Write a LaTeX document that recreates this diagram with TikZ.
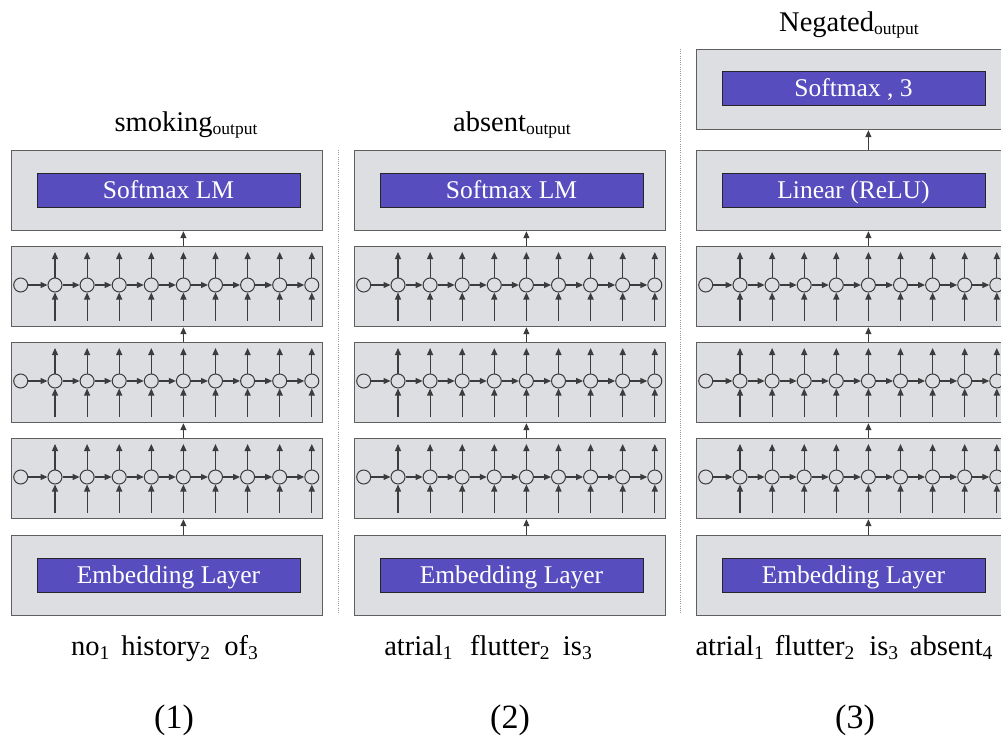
\documentclass[tikz,border=0pt]{standalone}
\usepackage{fontspec}
\setmainfont{Liberation Serif}
\usetikzlibrary{arrows.meta}

\definecolor{panelgray}{RGB}{221,222,226}
\definecolor{blockblue}{RGB}{88,77,190}
\definecolor{edgegray}{RGB}{95,95,95}
\definecolor{wiregray}{RGB}{60,60,60}

% lowered index after a word, and the "output" index of the top labels
\newcommand\lo[1]{\raisebox{-4pt}{\fontsize{19.5}{20}\selectfont #1}}
\newcommand\outsub{\raisebox{-3pt}{\fontsize{17.5}{18}\selectfont output}}

\tikzset{
  layer/.style={draw=edgegray, fill=panelgray, line width=1.2pt, anchor=north west,
                minimum width=311pt, minimum height=80pt, inner sep=0pt},
  block/.style={draw=black!85, fill=blockblue, text=white, line width=1pt,
                minimum width=263pt, minimum height=34pt, inner sep=0pt,
                text height=18pt, text depth=2pt,
                font=\fontsize{25.5}{30}\selectfont},
  cell/.style={circle, draw=wiregray, line width=1pt, minimum size=14pt, inner sep=0pt},
  flow/.style={draw=wiregray, line width=1.2pt, -{Triangle[length=7pt,width=6pt]}},
  sep/.style={draw=black!40, line width=0.9pt, dash pattern=on 1pt off 1.2pt},
  lbl/.style={anchor=base, inner sep=0pt, font=\fontsize{28.5}{34}\selectfont},
  tag/.style={anchor=base, inner sep=0pt, font=\fontsize{34}{40}\selectfont},
}

\begin{document}
\begin{tikzpicture}[x=1pt, y=-1pt]
\clip (0,0) rectangle (1001,738);
\fill[white] (0,0) rectangle (1001,738);

% separators between the three models
\draw[sep] (338,150) -- (338,614);
\draw[sep] (680,49) -- (680,614);

\foreach \p/\L in {1/11, 2/354, 3/696} {
  % embedding layer
  \node[layer] (p\p-emb) at (\L,535) {};
  \node[block] (p\p-embblk) at (\L+157.5,575.5) {Embedding Layer};
  % three stacked recurrent layers
  \foreach \r/\T in {1/246, 2/342, 3/438} {
    \node[layer] (p\p-r\r) at (\L,\T) {};
    \node[cell] (p\p-r\r-c0) at (\L+9.7,\T+39) {};
    \foreach \c in {1,...,9} {
      \pgfmathtruncatemacro\prev{\c-1}
      \node[cell] (p\p-r\r-c\c) at ({\L+44+32.1*(\c-1)},\T+39) {};
      \coordinate (p\p-r\r-o\c) at ({\L+44+32.1*(\c-1)},\T+6);
      \coordinate (p\p-r\r-i\c) at ({\L+44+32.1*(\c-1)},\T+75);
      \draw[flow] (p\p-r\r-c\c) -- (p\p-r\r-o\c);
      \draw[flow] (p\p-r\r-i\c) -- (p\p-r\r-c\c);
      \draw[flow] (p\p-r\r-c\prev) -- (p\p-r\r-c\c);
    }
  }
  % layer on top of the recurrent stack
  \node[layer] (p\p-top) at (\L,150) {};
}

\node[block] (p1-topblk) at (11+157.5,191) {Softmax LM};
\node[block] (p2-topblk) at (354+157.5,191) {Softmax LM};
\node[block] (p3-topblk) at (696+157.5,191) {Linear (ReLU)};

% classifier head of the third model
\node[layer] (p3-head) at (696,49) {};
\node[block] (p3-headblk) at (696+157.5,89) {Softmax , 3};

% connections between layers
\foreach \p in {1,2,3} {
  \draw[flow] (p\p-emb.north -| p\p-r3-c5) -- (p\p-r3.south -| p\p-r3-c5);
  \draw[flow] (p\p-r3.north -| p\p-r3-c5) -- (p\p-r2.south -| p\p-r3-c5);
  \draw[flow] (p\p-r2.north -| p\p-r3-c5) -- (p\p-r1.south -| p\p-r3-c5);
  \draw[flow] (p\p-r1.north -| p\p-r3-c5) -- (p\p-top.south -| p\p-r3-c5);
}
\draw[flow] (p3-top.north -| p3-r3-c5) -- (p3-head.south -| p3-r3-c5);

% outputs
\node[lbl] (out1) at (186,132) {smoking\outsub};
\node[lbl] (out2) at (512,132) {absent\outsub};
\node[lbl] (out3) at (849,32) {Negated\outsub};

% inputs
\node[lbl] (in1) at (164.5,655) {no\lo{1}\hspace{0.42em}history\lo{2}\hspace{0.5em}of\lo{3}};
\node[lbl] (in2) at (488,655) {atrial\lo{1}\hspace{0.62em}flutter\lo{2}\hspace{0.47em}is\lo{3}};
\node[lbl] (in3) at (844,655) {atrial\lo{1}\hspace{0.39em}flutter\lo{2}\hspace{0.53em}is\lo{3}\hspace{0.41em}absent\lo{4}};

% panel numbers
\node[tag] (n1) at (174,728) {(1)};
\node[tag] (n2) at (510,728) {(2)};
\node[tag] (n3) at (855,728) {(3)};
\end{tikzpicture}
\end{document}
